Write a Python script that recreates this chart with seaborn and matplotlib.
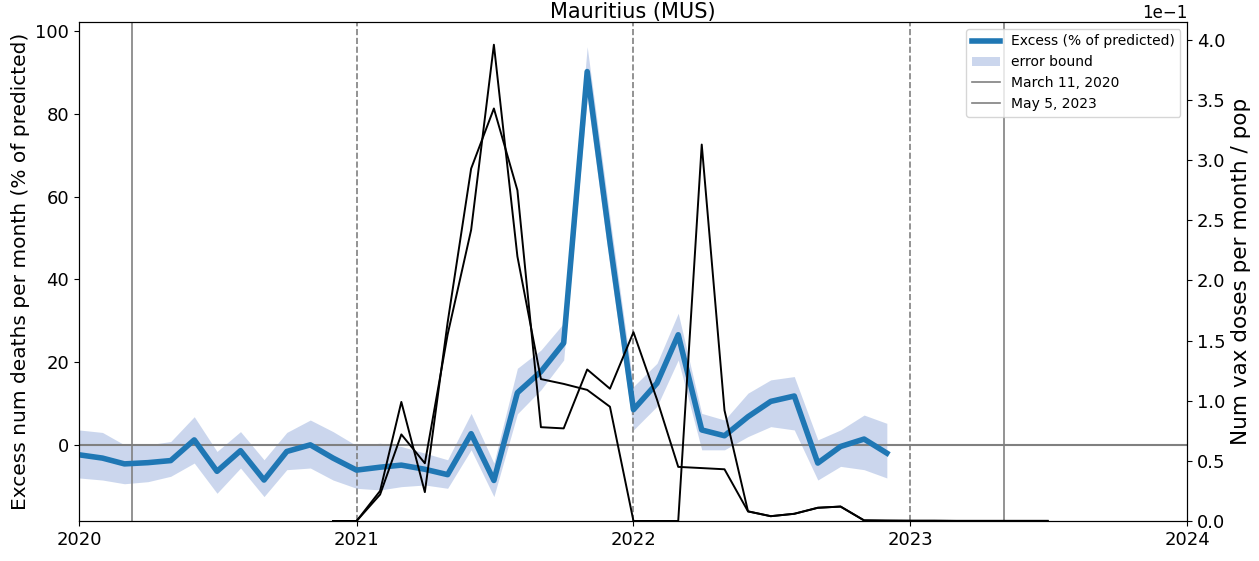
import numpy as np
import pandas as pd
import matplotlib
matplotlib.use("Agg")
import matplotlib.pyplot as plt
import seaborn as sns

# monthly excess deaths, % of predicted (Jan 2020 .. Dec 2022)
months = pd.date_range("2020-01-01", "2022-12-01", freq="MS")
excess = [-2.4, -3.2, -4.6, -4.3, -3.8, 1.2, -6.4, -1.4, -8.5, -1.6, 0.0, -3.2,
          -6.1, -5.4, -4.9, -5.9, -7.2, 2.7, -8.6, 12.6, 17.7, 24.6, 90.2, 49.0,
          8.5, 14.9, 26.6, 3.6, 2.2, 6.8, 10.5, 11.8, -4.4, -0.4, 1.4, -2.0]
err_upper = [3.6, 3.0, 0.0, 0.0, 0.8, 6.8, -1.6, 3.2, -3.6, 3.0, 6.0, 3.2,
             -0.2, 0.4, -0.4, -2.0, -3.6, 7.6, -4.4, 18.5, 22.9, 29.4, 96.2, 55.0,
             14.1, 19.7, 31.8, 7.6, 6.0, 12.5, 15.7, 16.5, 1.2, 3.6, 7.2, 5.2]
err_lower = [-8.0, -8.5, -9.4, -8.9, -7.6, -4.4, -11.7, -5.6, -12.5, -6.0, -5.6, -8.5,
             -10.5, -10.9, -10.1, -9.7, -10.5, -1.2, -12.5, 7.5, 13.3, 20.5, 84.0, 43.0,
             3.6, 9.3, 20.5, -1.2, -1.2, 2.0, 4.4, 3.6, -8.5, -5.2, -6.0, -8.0]

# vaccine doses per month / population (Dec 2020 .. Jul 2023)
vax_months = pd.date_range("2020-12-01", "2023-07-01", freq="MS")
vax_a = [0.0, 0.0, 0.022, 0.072, 0.048, 0.155, 0.242, 0.396, 0.220, 0.118, 0.114, 0.109,
         0.095, 0.0, 0.0, 0.0, 0.313, 0.092, 0.008, 0.004, 0.006, 0.011, 0.012, 0.0005,
         0.0003, 0.0002, 0.0002, 0.0001, 0.0001, 0.0001, 0.0001, 0.0001]
vax_b = [0.0, 0.0, 0.025, 0.099, 0.024, 0.165, 0.293, 0.343, 0.275, 0.078, 0.077, 0.126,
         0.110, 0.157, 0.101, 0.045, 0.044, 0.043, 0.008, 0.004, 0.006, 0.011, 0.012, 0.0005,
         0.0003, 0.0002, 0.0002, 0.0001, 0.0001, 0.0001, 0.0001, 0.0001]

year_lines = ["2021-01-01", "2022-01-01", "2023-01-01"]

df = pd.DataFrame({"date": months, "excess": excess, "lo": err_lower, "hi": err_upper})
vax = pd.DataFrame({"date": vax_months, "a": vax_a, "b": vax_b})

plt.rcParams["font.family"] = ["DejaVu Sans"]
fig, ax = plt.subplots(figsize=(12.59, 5.61), dpi=100)
fig.subplots_adjust(left=0.0627, right=0.943, top=0.961, bottom=0.0713)

# error band and excess line
ax.fill_between(df["date"], df["lo"], df["hi"], color=(0.55, 0.65, 0.85), alpha=0.45,
                linewidth=0, label="error bound")
sns.lineplot(data=df, x="date", y="excess", ax=ax, color="#1f77b4", linewidth=4,
             label="Excess (% of predicted)", zorder=3)
ax.axhline(0, color="gray", linewidth=1.5, zorder=2)
ax.axvline(pd.Timestamp("2020-03-11"), color="gray", linewidth=1.2, label="March 11, 2020")
ax.axvline(pd.Timestamp("2023-05-05"), color="gray", linewidth=1.2, label="May 5, 2023")
for d in year_lines:
    ax.axvline(pd.Timestamp(d), color="gray", linewidth=1.2, linestyle="--")

ax.set_xlim(pd.Timestamp("2020-01-01"), pd.Timestamp("2024-01-01"))
ax.set_ylim(-18.4, 102.2)
ax.set_xticks(pd.to_datetime(["2020-01-01", "2021-01-01", "2022-01-01", "2023-01-01", "2024-01-01"]))
ax.set_xticklabels(["2020", "2021", "2022", "2023", "2024"])
ax.set_xlabel("")
ax.set_ylabel("Excess num deaths per month (% of predicted)", fontsize=14.5)
ax.set_title("Mauritius (MUS)", fontsize=15, pad=2)
ax.tick_params(labelsize=13)

h, l = ax.get_legend_handles_labels()
order = [l.index(k) for k in ["Excess (% of predicted)", "error bound", "March 11, 2020", "May 5, 2023"]]
ax.legend([h[i] for i in order], [l[i] for i in order], loc="upper right", fontsize=10)

# vaccination on the right axis
ax2 = ax.twinx()
sns.lineplot(data=vax, x="date", y="a", ax=ax2, color="black", linewidth=1.4, legend=False)
sns.lineplot(data=vax, x="date", y="b", ax=ax2, color="black", linewidth=1.4, legend=False)
ax2.set_ylim(0, 0.415)
ax2.ticklabel_format(axis="y", style="sci", scilimits=(0, 0))
ax2.yaxis.get_offset_text().set_fontsize(12)
ax2.set_ylabel("Num vax doses per month / pop", fontsize=15.5)
ax2.set_xlabel("")
ax2.tick_params(labelsize=13)
ax2.set_xlim(pd.Timestamp("2020-01-01"), pd.Timestamp("2024-01-01"))

fig.savefig("out.png", dpi=100)
